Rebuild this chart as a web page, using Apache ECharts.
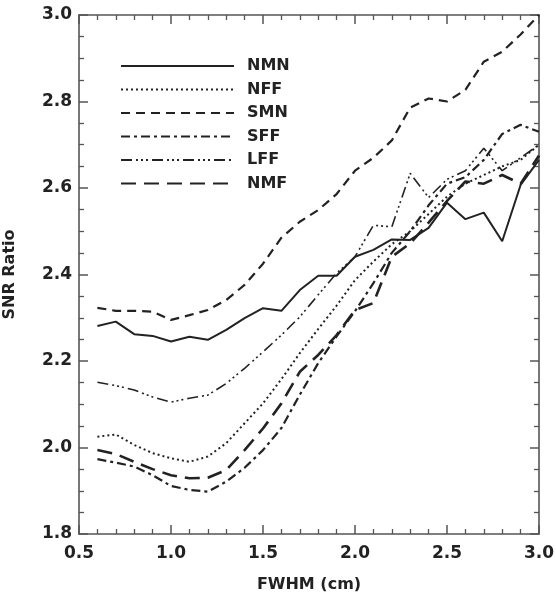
<!DOCTYPE html>
<html>
<head>
<meta charset="utf-8">
<script src="https://cdn.jsdelivr.net/npm/echarts@6/dist/echarts.min.js"></script>
<style>
  html, body { margin: 0; padding: 0; background: #fff; }
  #snr-chart { width: 556px; height: 595px; }
</style>
</head>
<body>
<div id="snr-chart"></div>
<script>
// FWHM values (cm), shared by every curve
const fwhm = [0.6, 0.7, 0.8, 0.9, 1.0, 1.1, 1.2, 1.3, 1.4, 1.5, 1.6, 1.7, 1.8,
  1.9, 2.0, 2.1, 2.2, 2.3, 2.4, 2.5, 2.6, 2.7, 2.8, 2.9, 3.0];

const nmn = [2.281, 2.291, 2.262, 2.258, 2.245, 2.256, 2.249, 2.272, 2.299, 2.322, 2.316, 2.364, 2.397,
  2.397, 2.441, 2.457, 2.481, 2.480, 2.508, 2.566, 2.528, 2.543, 2.477, 2.607, 2.665];
const nff = [2.025, 2.030, 2.006, 1.987, 1.975, 1.967, 1.979, 2.010, 2.056, 2.102, 2.158, 2.218, 2.274,
  2.328, 2.387, 2.430, 2.470, 2.500, 2.540, 2.580, 2.610, 2.630, 2.650, 2.665, 2.700];
const smn = [2.323, 2.316, 2.316, 2.314, 2.295, 2.306, 2.318, 2.341, 2.376, 2.425, 2.485, 2.522, 2.549,
  2.586, 2.640, 2.670, 2.710, 2.786, 2.807, 2.800, 2.827, 2.892, 2.915, 2.955, 3.000];
const sff = [1.973, 1.965, 1.956, 1.936, 1.911, 1.902, 1.898, 1.921, 1.953, 1.994, 2.045, 2.122, 2.195,
  2.257, 2.315, 2.380, 2.450, 2.500, 2.560, 2.610, 2.625, 2.665, 2.725, 2.746, 2.730];
const lff = [2.151, 2.143, 2.133, 2.117, 2.105, 2.114, 2.121, 2.148, 2.183, 2.221, 2.260, 2.302, 2.353,
  2.403, 2.441, 2.514, 2.510, 2.634, 2.578, 2.620, 2.640, 2.692, 2.640, 2.670, 2.700];
const nmf = [1.994, 1.985, 1.967, 1.950, 1.936, 1.929, 1.930, 1.948, 1.994, 2.044, 2.102, 2.175, 2.214,
  2.260, 2.318, 2.334, 2.441, 2.472, 2.520, 2.570, 2.615, 2.610, 2.630, 2.610, 2.675];

const seriesNames = ["NMN", "NFF", "SMN", "SFF", "LFF", "NMF"];
const xTicks = [0.5, 1.0, 1.5, 2.0, 2.5, 3.0];
const yTicks = [1.8, 2.0, 2.2, 2.4, 2.6, 2.8, 3.0];

const ink = "#222";
const axisGray = "#555";
const font = "DejaVu Sans";

function pairs(ys) {
  return fwhm.map((x, i) => [x, ys[i]]);
}

function line(name, ys, type, width) {
  return {
    name: name,
    type: "line",
    data: pairs(ys),
    symbol: "none",
    color: ink,
    lineStyle: { color: ink, width: width, type: type, cap: "butt" },
    emphasis: { disabled: true },
    animation: false,
  };
}

function xAxis(pos, showLabels) {
  return {
    type: "value",
    position: pos,
    min: 0.5,
    max: 3.0,
    interval: 0.5,
    axisLine: { onZero: false, lineStyle: { color: axisGray, width: 1.6 } },
    axisTick: { inside: true, length: 9, lineStyle: { color: axisGray, width: 1.5 } },
    minorTick: { show: true, splitNumber: 5, length: 5, lineStyle: { color: axisGray, width: 1.3 } },
    splitLine: { show: false },
    axisLabel: {
      show: showLabels,
      color: ink,
      fontFamily: font,
      fontWeight: "bold",
      fontSize: 17,
      margin: 11,
      formatter: v => (xTicks.includes(v) ? v.toFixed(1) : ""),
    },
    name: showLabels ? "FWHM (cm)" : "",
    nameLocation: "middle",
    nameGap: 43,
    nameTextStyle: { color: ink, fontFamily: font, fontWeight: "bold", fontSize: 16 },
  };
}

function yAxis(pos, showLabels) {
  return {
    type: "value",
    position: pos,
    min: 1.8,
    max: 3.0,
    interval: 0.2,
    axisLine: { onZero: false, lineStyle: { color: axisGray, width: 1.6 } },
    axisTick: { inside: true, length: 9, lineStyle: { color: axisGray, width: 1.5 } },
    minorTick: { show: true, splitNumber: 4, length: 5, lineStyle: { color: axisGray, width: 1.3 } },
    splitLine: { show: false },
    axisLabel: {
      show: showLabels,
      color: ink,
      fontFamily: font,
      fontWeight: "bold",
      fontSize: 17,
      margin: 7,
      formatter: v => (yTicks.some(t => Math.abs(t - v) < 1e-6) ? v.toFixed(1) : ""),
    },
    name: showLabels ? "SNR Ratio" : "",
    nameLocation: "middle",
    nameGap: 61,
    nameRotate: 90,
    nameTextStyle: { color: ink, fontFamily: font, fontWeight: "bold", fontSize: 16 },
  };
}

const chart = echarts.init(document.getElementById("snr-chart"), null, { renderer: "canvas" });

chart.setOption({
  backgroundColor: "#fff",
  animation: false,
  grid: { left: 79, right: 17, top: 15, bottom: 61, outerBoundsMode: "none", containLabel: false },
  legend: {
    data: seriesNames,
    orient: "vertical",
    left: 115,
    top: 53,
    itemWidth: 113,
    itemHeight: 14,
    itemGap: 7.5,
    selectedMode: false,
    itemStyle: { opacity: 0 },
    textStyle: { color: ink, fontFamily: font, fontWeight: "bold", fontSize: 16, padding: [0, 0, 0, 8] },
  },
  xAxis: [xAxis("bottom", true), xAxis("top", false)],
  yAxis: [yAxis("left", true), yAxis("right", false)],
  series: [
    line("NMN", nmn, "solid", 2),
    line("NFF", nff, [2, 3], 2),
    line("SMN", smn, [9, 6], 2.2),
    line("SFF", sff, [9, 4, 3, 4], 2.2),
    line("LFF", lff, [11, 4, 2, 3, 2, 3, 2, 4], 1.6),
    line("NMF", nmf, [15, 8], 2.6),
  ],
});
</script>
</body>
</html>
